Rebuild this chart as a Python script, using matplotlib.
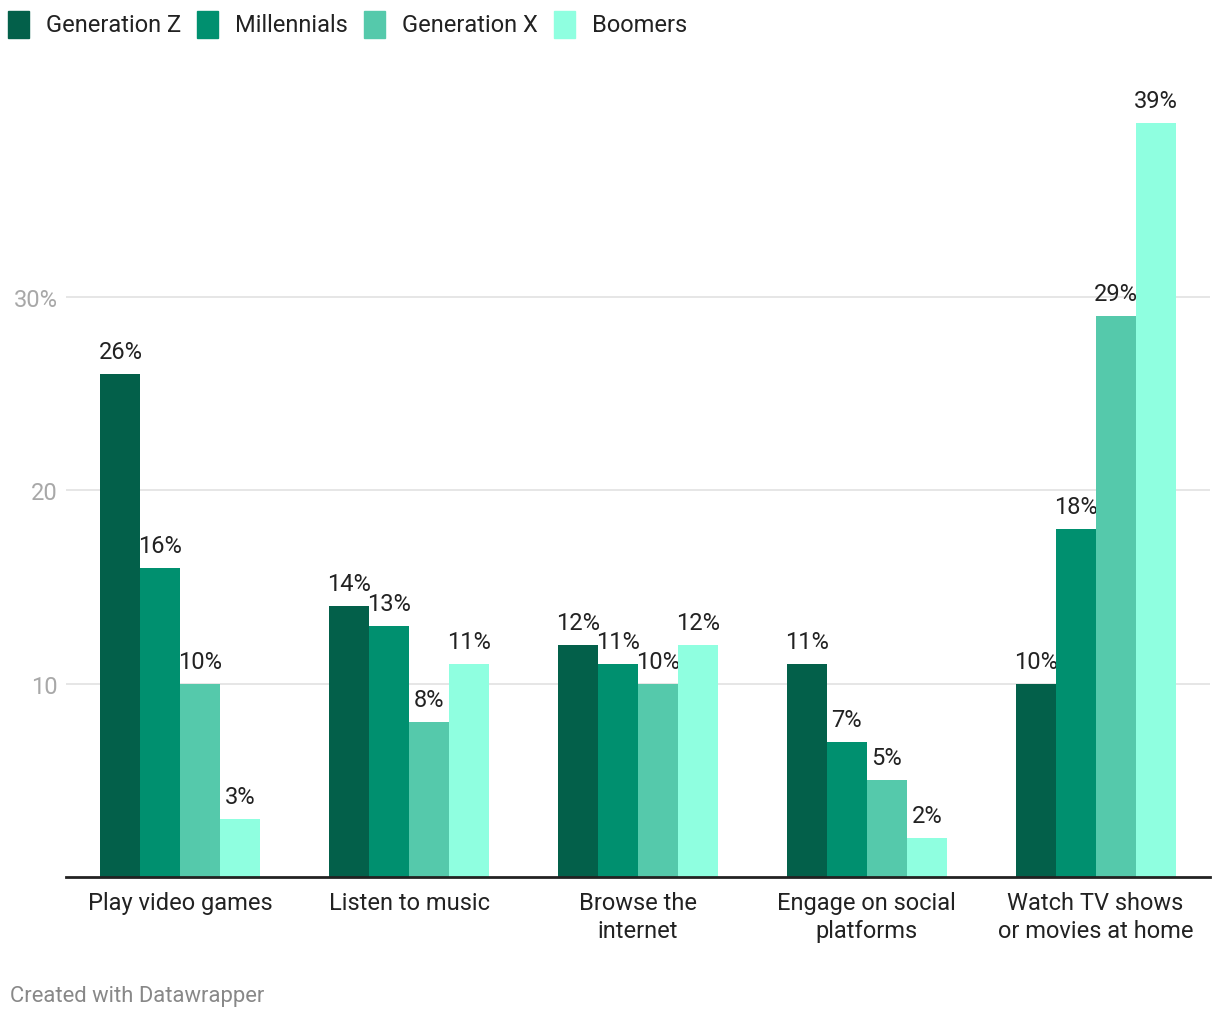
import numpy as np
import matplotlib
matplotlib.use('Agg')
import matplotlib.pyplot as plt
from matplotlib.patches import Rectangle

plt.rcParams['font.family'] = ['Roboto', 'DejaVu Sans']

categories = ["Play video games", "Listen to music", "Browse the\ninternet",
              "Engage on social\nplatforms", "Watch TV shows\nor movies at home"]
series_names = ["Generation Z", "Millennials", "Generation X", "Boomers"]
gen_z = [26, 14, 12, 11, 10]
millennials = [16, 13, 11, 7, 18]
gen_x = [10, 8, 10, 5, 29]
boomers = [3, 11, 12, 2, 39]
colors = ["#03604a", "#00906f", "#55c9ab", "#8fffe0"]

W, H = 1220, 1020
fig = plt.figure(figsize=(W/100, H/100), dpi=100)
ax_l, ax_r, ax_b, ax_t = 66, 1210, 878, 70
ax = fig.add_axes([ax_l/W, 1 - ax_b/H, (ax_r-ax_l)/W, (ax_b-ax_t)/H])

x = np.arange(len(categories))
bw = 40/228.8
data = [gen_z, millennials, gen_x, boomers]
for i, (vals, col) in enumerate(zip(data, colors)):
    pos = x + (i - 1.5)*bw
    ax.bar(pos, vals, width=bw, color=col, zorder=3)
    for p, v in zip(pos, vals):
        ax.annotate(f"{v}%", (p, v), xytext=(0, 8), textcoords="offset points",
                    ha="center", va="bottom", fontsize=17, color="#222222")

ax.set_xlim(-0.5, 4.5)
ax.set_ylim(0, (ax_b-ax_t)/19.33)
ax.set_yticks([10, 20, 30])
ax.set_yticklabels(["10", "20", "30%"], fontsize=17, color="#a8a8a8")
ax.tick_params(axis="y", length=0, pad=6)
ax.yaxis.grid(True, color="#e2e2e2", linewidth=1.2, zorder=0)
ax.set_xticks(x)
ax.set_xticklabels(categories, fontsize=17, color="#222222", linespacing=1.28)
ax.tick_params(axis="x", length=0, pad=10)
for s in ["top", "right", "left"]:
    ax.spines[s].set_visible(False)
ax.spines["bottom"].set_linewidth(2)
ax.spines["bottom"].set_color("#222222")
ax.spines["bottom"].set_zorder(4)

# legend drawn manually along the top
lx = 8
for name, col in zip(series_names, colors):
    fig.patches.append(Rectangle((lx/W, 1 - 39/H), 21/W, 27/H, color=col,
                                 transform=fig.transFigure, figure=fig))
    t = fig.text((lx + 38)/W, 1 - 26/H, name, fontsize=17, color="#222222", va="center")
    fig.canvas.draw()
    bb = t.get_window_extent()
    lx = bb.x1 + 16

fig.text(10/W, 1 - 997/H, "Created with Datawrapper", fontsize=15.8, color="#888888", va="center")

fig.savefig("out.png", dpi=100)
